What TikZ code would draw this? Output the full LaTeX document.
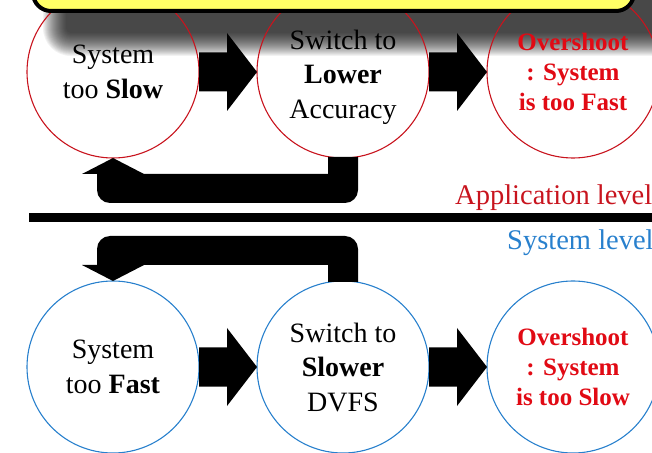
\documentclass[tikz,border=0pt]{standalone}
\usepackage{fontspec}
\setmainfont{Liberation Serif}
\usetikzlibrary{calc}

\definecolor{appred}{RGB}{200,20,30}
\definecolor{sysblue}{RGB}{40,128,205}
\definecolor{hotred}{RGB}{225,10,20}
\definecolor{noteyellow}{RGB}{255,255,102}

\tikzset{
  statecircle/.style={circle, minimum size=172pt, inner sep=0pt, outer sep=0pt,
    line width=1.1pt, align=center, font=\fontsize{28}{34.5}\selectfont},
  appstate/.style={statecircle, draw=appred},
  sysstate/.style={statecircle, draw=sysblue},
  overshoot/.style={text=hotred, font=\fontsize{25}{30}\selectfont\bfseries},
  levellabel/.style={anchor=base west, inner sep=0pt, font=\fontsize{28.5}{34}\selectfont},
  blockfill/.style={fill=black},
}

% fat horizontal arrow from the east side of #1 to the west side of #2
\newcommand\blockarrow[2]{%
  \fill[blockfill] let \p1=(#1.east), \p2=(#2.west) in
    (\x1,\y1+19.5pt) -- (\x2-30pt,\y1+19.5pt) -- (\x2-30pt,\y1+39pt) -- (\x2,\y2)
    -- (\x2-30pt,\y1-39pt) -- (\x2-30pt,\y1-19.5pt) -- (\x1,\y1-19.5pt) -- cycle;}

\begin{document}
\begin{tikzpicture}[x=1pt,y=1pt]
\useasboundingbox (0,0) rectangle (652,452);

% soft drop shadow of the banner
\foreach \i in {0,...,23}{
  \pgfmathsetmacro\d{12-\i}
  \pgfmathsetmacro\r{16+\d}
  \fill[black, opacity=0.05, rounded corners=\r pt] (55-\d, 408-\d) rectangle (720, 520);
}

% application level states
\node[appstate] (c1) at (113,380) {System\\too \textbf{Slow}};
\node[appstate] (c2) at (343,380) {\rule{0pt}{30pt}Switch to\\\textbf{Lower}\\Accuracy};
\node[appstate, overshoot] (c3) at (573,380) {Overshoot\\: System\\is too Fast};

% system level states
\node[sysstate] (c4) at (113,85) {System\\too \textbf{Fast}};
\node[sysstate] (c5) at (343,85) {Switch to\\\textbf{Slower}\\DVFS};
\node[sysstate, overshoot] (c6) at (573,85) {Overshoot\\: System\\is too Slow};

% banner
\draw[line width=4pt, fill=noteyellow, rounded corners=18pt] (33,441) rectangle (634,500);

% forward arrows
\blockarrow{c1}{c2}
\blockarrow{c2}{c3}
\blockarrow{c4}{c5}
\blockarrow{c5}{c6}

% feedback arrow, application level
\fill[blockfill] let \p1=(c2.south), \p2=(c1.south) in
  (\x1-15pt,\y1+1pt) -- (\x1+15pt,\y1+1pt) -- (\x1+15pt,\y1-32pt)
  arc[start angle=0, end angle=-90, radius=13pt]
  -- (\x2-3pt,\y1-45pt)
  arc[start angle=270, end angle=180, radius=13pt]
  -- (\x2-16pt,\y1-16pt) -- (\x2-31pt,\y1-16pt) -- (\x2,\y2)
  -- (\x2+31pt,\y1-16pt) -- (\x1-15pt,\y1-16pt) -- cycle;

% feedback arrow, system level
\fill[blockfill] let \p1=(c5.north), \p2=(c4.north) in
  (\x1-15pt,\y1-1pt) -- (\x1+15pt,\y1-1pt) -- (\x1+15pt,\y1+32pt)
  arc[start angle=0, end angle=90, radius=13pt]
  -- (\x2-3pt,\y1+45pt)
  arc[start angle=90, end angle=180, radius=13pt]
  -- (\x2-16pt,\y1+16pt) -- (\x2-31pt,\y1+16pt) -- (\x2,\y2)
  -- (\x2+31pt,\y1+16pt) -- (\x1-15pt,\y1+16pt) -- cycle;

% divider between the two levels
\fill (29,229.5) rectangle (660,238.5);

\node[levellabel, text=appred] (applvl) at (455,247) {Application level};
\node[levellabel, text=sysblue] (syslvl) at (507,202) {System level};
\end{tikzpicture}
\end{document}
